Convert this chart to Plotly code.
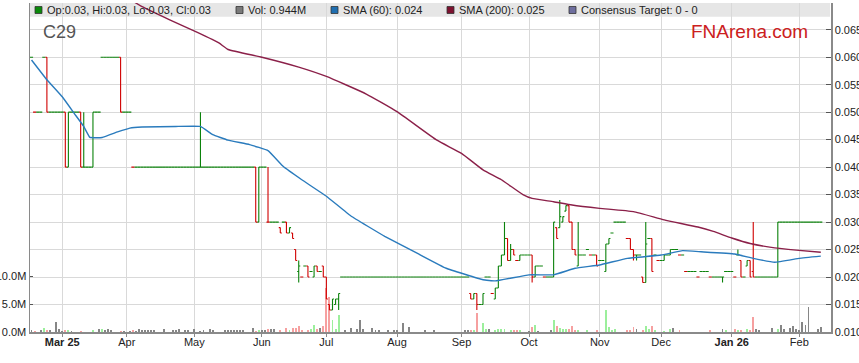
import pandas as pd
import plotly.graph_objects as go

# ---------------- data (prices in thousandths of a dollar, volume in millions) -------------
start_day = "2025-02-17"
end_day = "2026-02-11"
dates = pd.bdate_range(start_day, end_day) + pd.Timedelta(hours=12)

open_m = [
    60, 50, 50, 50, 60, 60, 50, 50, 50, 50,
    50, 50, 40, 50, 50, 50, 50, 40, 40, 40,
    40, 50, 50, 60, 60, 60, 60, 60, 60, 60,
    50, 50, 50, 40, 40, 40, 40, 40, 40, 40,
    40, 40, 40, 40, 40, 40, 40, 40, 40, 40,
    40, 40, 40, 40, 40, 40, 40, 40, 40, 40,
    40, 40, 40, 40, 40, 40, 40, 40, 40, 40,
    40, 40, 40, 40, 30, 40, 40, 30, 30, 30,
    30, 29, 30, 30, 28, 28, 25, 21, 20, 22,
    22, 21, 20, 22, 21, 22, 20, 15, 14, 15,
    16, 20, 20, 20, 20, 20, 20, 20, 20, 20,
    20, 20, 20, 20, 20, 20, 20, 20, 20, 20,
    20, 20, 20, 20, 20, 20, 20, 20, 20, 20,
    20, 20, 20, 20, 20, 20, 20, 20, 20, 20,
    20, 20, 20, 17, 16, 17, 15, 15, 20, 20,
    17, 16, 18, 22, 24, 27, 23, 25, 23, 23,
    24, 24, 24, 24, 20, 22, 22, 20, 20, 20,
    20, 29, 29, 30, 32, 33, 30, 25, 22, 24,
    24, 25, 24, 24, 24, 23, 23, 21, 26, 28,
    30, 30, 30, 30, 27, 27, 25, 24, 24, 20,
    19, 27, 27, 24, 23, 23, 23, 24, 24, 25,
    25, 24, 24, 21, 21, 21, 21, 20, 21, 21,
    21, 20, 20, 20, 20, 20, 21, 21, 21, 20,
    24, 23, 20, 22, 23, 21, 20, 20, 20, 20,
    20, 20, 20, 20, 30, 30, 30, 30, 30, 30,
    30, 30, 30, 30, 30, 30, 30, 30,
]
high_m = [
    60, 50, 50, 50, 60, 60, 50, 50, 50, 50,
    50, 50, 50, 50, 50, 50, 50, 50, 40, 40,
    50, 50, 50, 60, 60, 60, 60, 60, 60, 60,
    50, 50, 50, 40, 40, 40, 40, 40, 40, 40,
    40, 40, 40, 40, 40, 40, 40, 40, 40, 40,
    40, 40, 40, 40, 40, 50, 40, 40, 40, 40,
    40, 40, 40, 40, 40, 40, 40, 40, 40, 40,
    40, 40, 40, 40, 40, 40, 40, 40, 30, 30,
    30, 29, 30, 30, 29, 28, 25, 23, 20, 22,
    22, 21, 22, 22, 21, 22, 20, 15, 16, 16,
    17, 20, 20, 20, 20, 20, 20, 20, 20, 20,
    20, 20, 20, 20, 20, 20, 20, 20, 20, 20,
    20, 20, 20, 20, 20, 20, 20, 20, 20, 20,
    20, 20, 20, 20, 20, 20, 20, 20, 20, 20,
    20, 20, 20, 17, 17, 17, 15, 17, 20, 20,
    17, 18, 22, 24, 30, 27, 26, 25, 23, 24,
    24, 24, 24, 24, 22, 22, 22, 20, 20, 20,
    30, 29, 34, 31, 33, 33, 30, 25, 30, 24,
    24, 25, 24, 24, 24, 23, 23, 26, 27, 28,
    30, 30, 30, 30, 27, 27, 25, 24, 24, 20,
    30, 27, 27, 24, 23, 23, 24, 24, 25, 25,
    25, 24, 24, 21, 21, 21, 21, 20, 21, 21,
    21, 20, 20, 20, 20, 20, 21, 21, 21, 20,
    25, 23, 20, 23, 23, 30, 20, 20, 20, 20,
    20, 20, 20, 30, 30, 30, 30, 30, 30, 30,
    30, 30, 30, 30, 30, 30, 30, 30,
]
low_m = [
    60, 50, 50, 50, 60, 50, 50, 50, 50, 50,
    50, 40, 40, 50, 50, 50, 40, 40, 40, 40,
    40, 50, 50, 60, 60, 60, 60, 60, 60, 50,
    50, 50, 50, 40, 40, 40, 40, 40, 40, 40,
    40, 40, 40, 40, 40, 40, 40, 40, 40, 40,
    40, 40, 40, 40, 40, 40, 40, 40, 40, 40,
    40, 40, 40, 40, 40, 40, 40, 40, 40, 40,
    40, 40, 40, 30, 30, 40, 40, 30, 30, 30,
    30, 28, 30, 28, 28, 27, 23, 19, 20, 22,
    20, 21, 20, 21, 21, 20, 16, 14, 14, 15,
    14, 20, 20, 20, 20, 20, 20, 20, 20, 20,
    20, 20, 20, 20, 20, 20, 20, 20, 20, 20,
    20, 20, 20, 20, 20, 20, 20, 20, 20, 20,
    20, 20, 20, 20, 20, 20, 20, 20, 20, 20,
    20, 20, 20, 16, 16, 14, 15, 15, 20, 20,
    17, 16, 18, 22, 24, 23, 23, 24, 23, 23,
    24, 24, 24, 19, 20, 22, 22, 20, 20, 20,
    20, 27, 29, 30, 32, 30, 25, 24, 22, 24,
    24, 25, 24, 24, 22, 23, 23, 21, 26, 28,
    30, 30, 30, 30, 27, 25, 23, 23, 24, 19,
    19, 27, 21, 24, 23, 23, 23, 24, 24, 25,
    25, 24, 24, 21, 21, 21, 21, 20, 21, 21,
    21, 20, 20, 20, 20, 19, 21, 21, 21, 20,
    24, 20, 20, 22, 20, 20, 20, 20, 20, 20,
    20, 20, 20, 20, 30, 30, 30, 30, 30, 30,
    30, 30, 30, 30, 30, 30, 30, 30,
]
close_m = [
    60, 50, 50, 50, 60, 50, 50, 50, 50, 50,
    50, 40, 50, 50, 50, 50, 40, 40, 40, 40,
    50, 50, 50, 60, 60, 60, 60, 60, 60, 50,
    50, 50, 50, 40, 40, 40, 40, 40, 40, 40,
    40, 40, 40, 40, 40, 40, 40, 40, 40, 40,
    40, 40, 40, 40, 40, 40, 40, 40, 40, 40,
    40, 40, 40, 40, 40, 40, 40, 40, 40, 40,
    40, 40, 40, 30, 40, 40, 40, 30, 30, 30,
    30, 28, 30, 28, 29, 27, 23, 22, 20, 22,
    20, 21, 22, 21, 21, 20, 16, 14, 16, 16,
    17, 20, 20, 20, 20, 20, 20, 20, 20, 20,
    20, 20, 20, 20, 20, 20, 20, 20, 20, 20,
    20, 20, 20, 20, 20, 20, 20, 20, 20, 20,
    20, 20, 20, 20, 20, 20, 20, 20, 20, 20,
    20, 20, 20, 16, 17, 15, 15, 17, 20, 20,
    17, 18, 22, 24, 27, 23, 25, 24, 23, 24,
    24, 24, 24, 20, 22, 22, 22, 20, 20, 20,
    30, 27, 31, 31, 33, 30, 25, 24, 24, 24,
    24, 25, 24, 24, 22, 23, 23, 26, 27, 28,
    30, 30, 30, 30, 27, 25, 24, 24, 24, 19,
    26, 27, 21, 24, 23, 23, 24, 24, 25, 25,
    25, 24, 24, 21, 21, 21, 21, 20, 21, 21,
    21, 20, 20, 20, 20, 20, 21, 21, 21, 20,
    24, 20, 20, 23, 20, 20, 20, 20, 20, 20,
    20, 20, 20, 30, 30, 30, 30, 30, 30, 30,
    30, 30, 30, 30, 30, 30, 30, 30,
]
volume_m = [
    0.3, 0.2, 0, 0.3, 0.7, 0.4, 0.4, 0, 1.8, 0.5,
    0.2, 0.3, 0.4, 0.2, 0, 0, 0.2, 0, 0, 0,
    0.4, 0, 0.6, 0.6, 0.4, 0.5, 0.3, 0, 0, 0.2,
    0.2, 0, 0.2, 0.3, 0.2, 0.5, 0.4, 0.4, 0.3, 0.3,
    0.3, 0, 0, 0.5, 0, 0, 0.3, 0.3, 0.5, 0,
    0.3, 0.3, 0, 0.5, 0, 0.2, 0.4, 0, 0.5, 0.3,
    0, 0, 0, 0.4, 0.4, 0.4, 0.4, 0.4, 0.3, 0.3,
    0, 0, 0.8, 0.2, 0.3, 0.3, 0.3, 0.5, 0.5, 0.5,
    0, 0.3, 0, 0.7, 0.3, 0.7, 0.7, 1.0, 0.3, 0,
    0.3, 0.5, 1.2, 0.5, 0.8, 1.0, 7.8, 6.3, 2.1, 0.5,
    3.0, 0, 0.3, 0, 0.8, 0, 0.5, 2.2, 0.5, 0,
    0, 0.7, 0.4, 0.4, 0, 0, 0.3, 0, 0.4, 0.4,
    0, 1.6, 0, 0.9, 0, 0, 0, 0, 0.3, 0,
    0, 0.3, 0, 0, 0, 0, 0, 0, 0, 0,
    0, 0.3, 0.3, 0.4, 0.3, 3.4, 0, 1.6, 0.6, 0.6,
    0, 0.4, 0.5, 0.6, 0.6, 0, 0.3, 0.4, 0.3, 0.4,
    0, 0, 0.2, 0.9, 1.2, 0.2, 0, 0, 0, 0.3,
    2.1, 1.1, 0.8, 0.6, 0.6, 0.5, 1.1, 0.4, 0.3, 0,
    0, 0.4, 0, 0, 0.4, 0, 0, 4.0, 0.9, 0.3,
    0.5, 0, 0, 0, 0.3, 0.3, 0.9, 0.5, 0, 0.3,
    1.1, 0.6, 1.1, 0.3, 0, 0, 0.2, 0, 0.5, 0.8,
    0, 0.3, 0, 0, 0, 0, 0, 0, 0, 0,
    0, 0.3, 0, 0, 0, 0.5, 0.3, 0, 0, 0.5,
    0.4, 0.3, 0, 0.5, 0.3, 2.6, 0.6, 0.3, 0, 0,
    0, 0.8, 0, 0.6, 1.2, 0.6, 0, 0.8, 1.0, 0.5,
    0.4, 1.7, 1.3, 4.4, 0, 0, 0.6, 0.944,
]

# moving-average lines (day number into `dates`, value)
sma60_day = [0, 5, 10, 14, 17, 19, 23, 28, 32, 36, 47, 55, 59, 64, 71, 77, 82, 88, 96, 104,
             115, 126, 135, 147, 151, 162, 170, 177, 185, 194, 205, 212, 218, 229, 235, 242, 250, 257]
sma60_val = [0.0595, 0.0559, 0.0528, 0.0497, 0.0474, 0.0454, 0.0454, 0.0464, 0.0471, 0.0473,
             0.0474, 0.0474, 0.0459, 0.0449, 0.0441, 0.0430, 0.0401, 0.0377, 0.0347, 0.0311,
             0.0274, 0.0242, 0.0216, 0.0195, 0.0193, 0.0204, 0.0204, 0.0216, 0.0222, 0.0234,
             0.0240, 0.0248, 0.0246, 0.0242, 0.0234, 0.0227, 0.0234, 0.0238]
sma200_day = [30, 36, 45, 54, 61, 64, 75, 87, 96, 109, 119, 132, 140, 147, 153, 160, 163, 170,
              176, 185, 196, 206, 217, 222, 228, 234, 242, 249, 257]
sma200_val = [0.0712, 0.0692, 0.0668, 0.0645, 0.0626, 0.0614, 0.0600, 0.0582, 0.0565, 0.0533,
              0.0501, 0.0449, 0.0425, 0.0395, 0.0377, 0.0350, 0.0343, 0.0337, 0.0331, 0.0325,
              0.0319, 0.0304, 0.0291, 0.0283, 0.0271, 0.0261, 0.0253, 0.0249, 0.0245]

month_ticks = ["2025-03-03", "2025-04-01", "2025-05-01", "2025-06-02", "2025-07-01", "2025-08-01",
               "2025-09-01", "2025-10-01", "2025-11-03", "2025-12-01", "2026-01-01", "2026-02-02"]
month_labels = ["<b>Mar 25</b>", "Apr", "May", "Jun", "Jul", "Aug", "Sep", "Oct", "Nov", "Dec",
                "<b>Jan 26</b>", "Feb"]
price_ticks = [0.010, 0.015, 0.020, 0.025, 0.030, 0.035, 0.040, 0.045, 0.050, 0.055, 0.060, 0.065]
vol_ticks = [0, 5, 10]
vol_labels = ["0.0M", "5.0M", "10.0M"]

legend_items = [
    ("Op:0.03, Hi:0.03, Lo:0.03, Cl:0.03", "#0a8a0a"),
    ("Vol: 0.944M", "#7a7a7a"),
    ("SMA (60): 0.024", "#1f6eb0"),
    ("SMA (200): 0.025", "#7d1230"),
    ("Consensus Target: 0 - 0", "#6e6e9e"),
]
legend_px = [35, 236, 331, 447, 569]

# ---------------- styling -------------
GREEN = "#0b820b"
RED = "#d00000"
V_GREEN = "#9cef9c"
V_RED = "#f6a0a0"
V_GRAY = "#868686"
GRID = "#d9d9d9"
AXIS = "#8a8a8a"
FONT = "Liberation Sans, Arial, sans-serif"

L, R, T, B = 30, 28, 3, 31
W, H = 859, 363
PW, PH = W - L - R, H - T - B


def px_x(px):
    return (px - L) / PW


def px_y(py):
    return (H - B - py) / PH


opens = [v / 1000 for v in open_m]
highs = [v / 1000 for v in high_m]
lows = [v / 1000 for v in low_m]
closes = [v / 1000 for v in close_m]

up = {"o": [], "h": [], "l": [], "c": []}
dn = {"o": [], "h": [], "l": [], "c": []}
vol_colors = []
prev = None
for o, h, l, c, om, cm in zip(opens, highs, lows, closes, open_m, close_m):
    is_red = cm < om or (cm == om and prev is not None and cm < prev)
    tgt, other = (dn, up) if is_red else (up, dn)
    for key, val in zip("ohlc", (o, h, l, c)):
        tgt[key].append(val)
        other[key].append(None)
    if prev is None or cm == prev:
        vol_colors.append(V_RED if cm < om else (V_GREEN if cm > om else V_GRAY))
    else:
        vol_colors.append(V_GREEN if cm > prev else V_RED)
    prev = cm

fig = go.Figure()

fig.add_trace(go.Bar(
    x=dates, y=volume_m, marker=dict(color=vol_colors, line=dict(width=0)),
    width=0.62 * 86400000, yaxis="y", hoverinfo="skip", showlegend=False,
))

for d, col in ((up, GREEN), (dn, RED)):
    fig.add_trace(go.Ohlc(
        x=dates, open=d["o"], high=d["h"], low=d["l"], close=d["c"], yaxis="y2",
        increasing=dict(line=dict(color=col, width=1.1)),
        decreasing=dict(line=dict(color=col, width=1.1)),
        tickwidth=0.5, hoverinfo="skip", showlegend=False,
    ))

fig.add_trace(go.Scatter(
    x=[dates[k] for k in sma60_day], y=sma60_val, mode="lines", yaxis="y2",
    line=dict(color="#2a7bbd", width=1.4, shape="spline", smoothing=0.25),
    hoverinfo="skip", showlegend=False,
))
fig.add_trace(go.Scatter(
    x=[dates[k] for k in sma200_day], y=sma200_val, mode="lines", yaxis="y2",
    line=dict(color="#8b2049", width=1.4, shape="spline", smoothing=0.4),
    hoverinfo="skip", showlegend=False,
))

shapes = [dict(type="rect", xref="paper", yref="paper", x0=0, x1=px_x(830), y0=px_y(16.7), y1=1,
               fillcolor="#e6e6e6", line=dict(width=0), layer="below")]
annotations = []
for (text, col), sx in zip(legend_items, legend_px):
    shapes.append(dict(type="rect", xref="paper", yref="paper", x0=px_x(sx), x1=px_x(sx + 7),
                       y0=px_y(13.5), y1=px_y(6.5), fillcolor=col,
                       line=dict(color="#333333", width=0.8), layer="above"))
    annotations.append(dict(text=text, xref="paper", yref="paper", x=px_x(sx + 10), y=px_y(10.3),
                            xanchor="left", yanchor="middle", showarrow=False,
                            font=dict(family=FONT, size=11, color="#222222")))

annotations.append(dict(text="C29", xref="paper", yref="paper", x=px_x(41), y=px_y(32),
                        xanchor="left", yanchor="middle", showarrow=False,
                        font=dict(family=FONT, size=18, color="#555555")))
annotations.append(dict(text="FNArena.com", xref="paper", yref="paper", x=px_x(810), y=px_y(31.5),
                        xanchor="right", yanchor="middle", showarrow=False,
                        font=dict(family=FONT, size=19, color="#cc2020")))

fig.update_layout(
    template="none",
    width=W, height=H, margin=dict(l=L, r=R, t=T, b=B, pad=0, autoexpand=False),
    paper_bgcolor="white", plot_bgcolor="white", showlegend=False, hovermode=False,
    font=dict(family=FONT, size=11, color="#222222"),
    bargap=0,
    shapes=shapes, annotations=annotations,
    xaxis=dict(
        type="date", range=["2025-02-17 00:00", "2026-02-16 19:40"],
        rangebreaks=[dict(bounds=["sat", "mon"])],
        tickvals=[pd.Timestamp(t) + pd.Timedelta(hours=12) for t in month_ticks],
        ticktext=month_labels, automargin=False,
        showgrid=True, gridcolor=GRID, gridwidth=1,
        showline=True, linecolor=AXIS, linewidth=1.5,
        ticks="outside", ticklen=3, tickcolor=AXIS, ticklabelstandoff=-4,
        zeroline=False, rangeslider=dict(visible=False),
        tickfont=dict(size=11, color="#222222"),
    ),
    yaxis=dict(
        range=[0, PH / 5.6], tickvals=vol_ticks, ticktext=vol_labels, automargin=False,
        showgrid=False, zeroline=False, showline=True, linecolor=AXIS, linewidth=1.5,
        ticks="inside", ticklen=3, tickcolor="#555555", side="left",
        tickfont=dict(size=11, color="#222222"),
    ),
    yaxis2=dict(
        overlaying="y", side="right", range=[0.010, 0.010 + PH / 5496.0], automargin=False,
        tickvals=price_ticks, tickformat=".3f",
        showgrid=True, gridcolor=GRID, gridwidth=1, zeroline=False,
        showline=True, linecolor=AXIS, linewidth=1.5,
        ticks="inside", ticklen=5, tickcolor="#555555",
        tickfont=dict(size=11, color="#222222"),
    ),
)

fig.write_html(
    "out.html",
    config={"displayModeBar": False, "staticPlot": True},
    post_script="document.body.style.margin='0';document.body.style.padding='0';",
)
